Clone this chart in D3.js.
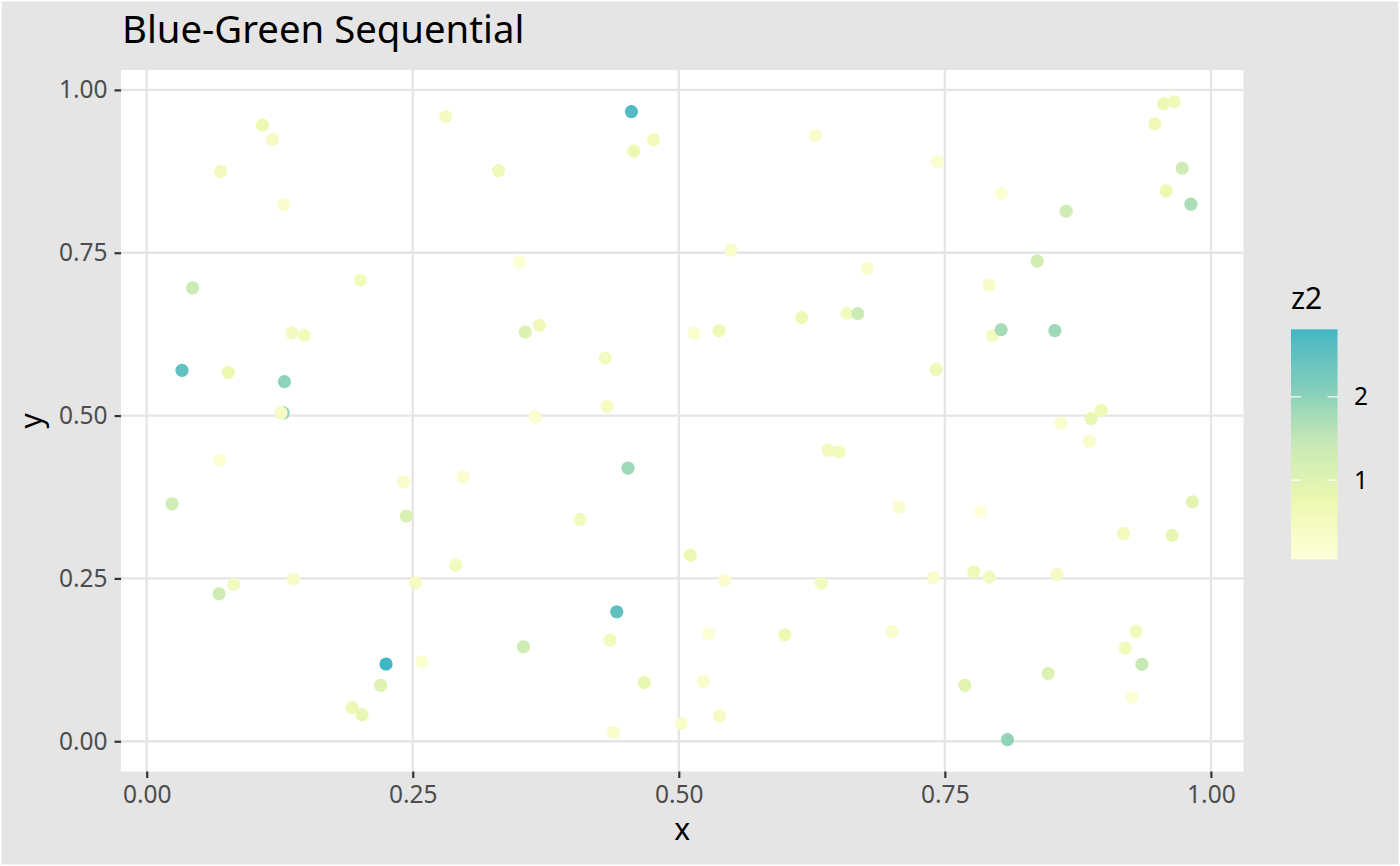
<!DOCTYPE html>
<html>
<head>
<meta charset="utf-8">
<script src="https://cdn.jsdelivr.net/npm/d3@7"></script>
<style>
  html, body { margin: 0; padding: 0; background: #fff; }
  svg { display: block; font-family: "Noto Sans", "Open Sans", sans-serif; }
</style>
</head>
<body>
<svg id="chart" width="1400" height="866"></svg>
<script>
// values
const xs = [0.1087, 0.1184, 0.0695, 0.1287, 0.281, 0.3308, 0.0432, 0.2008, 0.1363, 0.1482,
  0.0332, 0.0767, 0.1294, 0.1284, 0.1262, 0.0686, 0.0238, 0.2415, 0.297, 0.244,
  0.2904, 0.0818, 0.068, 0.1378, 0.2525, 0.2249, 0.2587, 0.2199, 0.193, 0.2024,
  0.4555, 0.4762, 0.4577, 0.6284, 0.3502, 0.5489, 0.677, 0.3558, 0.369, 0.5144,
  0.5379, 0.6156, 0.6579, 0.6682, 0.4308, 0.4326, 0.3652, 0.4523, 0.4072, 0.5109,
  0.6403, 0.6506, 0.5432, 0.634, 0.4417, 0.4354, 0.354, 0.5282, 0.5996, 0.4677,
  0.5232, 0.5382, 0.5025, 0.4386, 0.9555, 0.9655, 0.9474, 0.743, 0.8029, 0.864,
  0.973, 0.958, 0.9812, 0.8368, 0.7916, 0.7951, 0.8029, 0.8534, 0.7418, 0.8969,
  0.8875, 0.8593, 0.8859, 0.7068, 0.7838, 0.9827, 0.9179, 0.9636, 0.7393, 0.7773,
  0.7916, 0.8555, 0.7005, 0.9298, 0.9197, 0.9352, 0.8471, 0.7688, 0.9258, 0.8088];
const ys = [0.946, 0.924, 0.875, 0.824, 0.959, 0.876, 0.696, 0.708, 0.627, 0.623,
  0.5695, 0.5664, 0.552, 0.504, 0.504, 0.4314, 0.3645, 0.398, 0.4054, 0.3455,
  0.27, 0.2408, 0.2264, 0.249, 0.2433, 0.1186, 0.122, 0.0859, 0.0516, 0.0404,
  0.9667, 0.9238, 0.9059, 0.93, 0.7356, 0.754, 0.726, 0.6282, 0.6385, 0.6267,
  0.6303, 0.6503, 0.6569, 0.6564, 0.5883, 0.5143, 0.4979, 0.4192, 0.3405, 0.2857,
  0.4468, 0.4442, 0.2469, 0.2423, 0.1988, 0.1554, 0.1451, 0.165, 0.1635, 0.0899,
  0.092, 0.0388, 0.027, 0.0138, 0.979, 0.9816, 0.9479, 0.8896, 0.841, 0.8138,
  0.8798, 0.845, 0.8245, 0.7371, 0.7003, 0.6227, 0.6319, 0.6304, 0.571, 0.5081,
  0.4955, 0.488, 0.4606, 0.3598, 0.3528, 0.3675, 0.319, 0.316, 0.2509, 0.2601,
  0.252, 0.2561, 0.1687, 0.1687, 0.1431, 0.1181, 0.1043, 0.0859, 0.0675, 0.0025];
const z2 = [0.7, 0.4, 0.5, 0.2, 0.45, 0.6, 1.35, 0.55, 0.5, 0.55,
  2.5, 0.75, 2.0, 1.9, 0.4, 0.15, 1.3, 0.3, 0.2, 1.1,
  0.5, 0.5, 1.3, 0.35, 0.45, 2.81, 0.25, 1.0, 0.7, 0.85,
  2.65, 0.55, 0.7, 0.3, 0.15, 0.3, 0.25, 1.05, 0.6, 0.25,
  0.65, 0.65, 0.5, 1.35, 0.5, 0.4, 0.25, 1.85, 0.5, 0.7,
  0.5, 0.55, 0.2, 0.5, 2.5, 0.55, 1.3, 0.15, 0.7, 0.8,
  0.3, 0.4, 0.35, 0.3, 0.7, 0.6, 0.6, 0.25, 0.15, 1.3,
  1.3, 0.7, 1.7, 1.25, 0.35, 0.5, 1.75, 1.85, 0.6, 0.65,
  0.8, 0.25, 0.3, 0.2, 0.05, 0.95, 0.55, 0.85, 0.3, 0.6,
  0.5, 0.4, 0.3, 0.55, 0.5, 1.45, 1.05, 0.95, 0.15, 1.95];

const xTicks = [0, 0.25, 0.5, 0.75, 1];
const yTicks = [0, 0.25, 0.5, 0.75, 1];
const legendTicks = [1, 2];
const palette = ["#ffffd9", "#edf8b1", "#c7e9b4", "#7fcdbb", "#41b6c4"];

const points = xs.map((x, i) => ({ x, y: ys[i], z: z2[i] }));

const svg = d3.select("#chart");
const W = 1400, H = 866;
const panel = { left: 121, right: 1243.5, top: 70, bottom: 771.5 };

// ggplot style 5% expansion of the data range
function expand(ext) {
  const r = ext[1] - ext[0];
  return [ext[0] - r * 0.05, ext[1] + r * 0.05];
}

const x = d3.scaleLinear().domain(expand(d3.extent(xs))).range([panel.left, panel.right]);
const y = d3.scaleLinear().domain(expand(d3.extent(ys))).range([panel.bottom, panel.top]);

const zExt = d3.extent(z2);
const color = d3.scaleLinear()
  .domain(palette.map((_, i) => zExt[0] + (zExt[1] - zExt[0]) * i / (palette.length - 1)))
  .range(palette)
  .interpolate(d3.interpolateLab);

// backgrounds
svg.append("rect")
  .attr("x", 0.75).attr("y", 0.75)
  .attr("width", W - 1.5).attr("height", H - 1.5)
  .attr("fill", "#e5e5e5")
  .attr("stroke", "#fff").attr("stroke-width", 1.5);

svg.append("rect")
  .attr("x", panel.left).attr("y", panel.top)
  .attr("width", panel.right - panel.left)
  .attr("height", panel.bottom - panel.top)
  .attr("fill", "#fff");

// grid
const grid = svg.append("g").attr("stroke", "#e5e5e5").attr("stroke-width", 2.3);
grid.selectAll(".gx").data(xTicks).join("line")
  .attr("x1", d => x(d)).attr("x2", d => x(d))
  .attr("y1", panel.top).attr("y2", panel.bottom);
grid.selectAll(".gy").data(yTicks).join("line")
  .attr("x1", panel.left).attr("x2", panel.right)
  .attr("y1", d => y(d)).attr("y2", d => y(d));

// points
svg.append("g").selectAll("circle").data(points).join("circle")
  .attr("cx", d => x(d.x))
  .attr("cy", d => y(d.y))
  .attr("r", 6.6)
  .attr("fill", d => color(d.z));

// axes
const fmt = d3.format(".2f");
const xAxis = svg.append("g")
  .attr("transform", `translate(0,${panel.bottom})`)
  .call(d3.axisBottom(x).tickValues(xTicks).tickFormat(fmt).tickSize(6.5).tickPadding(5));
const yAxis = svg.append("g")
  .attr("transform", `translate(${panel.left},0)`)
  .call(d3.axisLeft(y).tickValues(yTicks).tickFormat(fmt).tickSize(6.5).tickPadding(7));

[xAxis, yAxis].forEach(a => {
  a.select(".domain").remove();
  a.selectAll(".tick line").attr("stroke", "#333").attr("stroke-width", 2.2);
  a.selectAll(".tick text")
    .attr("fill", "#4d4d4d")
    .attr("font-size", 24.5)
    .attr("font-family", "'Noto Sans', 'Open Sans', sans-serif");
});
xAxis.selectAll(".tick text").attr("dy", "0.8em");

// titles
svg.append("text")
  .attr("x", 122).attr("y", 43)
  .attr("font-size", 38.3)
  .attr("fill", "#000")
  .text("Blue-Green Sequential");

svg.append("text")
  .attr("x", (panel.left + panel.right) / 2).attr("y", 840)
  .attr("text-anchor", "middle")
  .attr("font-size", 30)
  .attr("fill", "#000")
  .text("x");

svg.append("text")
  .attr("transform", `translate(42,${(panel.top + panel.bottom) / 2}) rotate(-90)`)
  .attr("text-anchor", "middle")
  .attr("font-size", 30)
  .attr("fill", "#000")
  .text("y");

// legend colourbar
const bar = { x: 1291, w: 46.5, top: 329.3, bottom: 559.3 };
const lz = d3.scaleLinear().domain(zExt).range([bar.bottom, bar.top]);

const defs = svg.append("defs");
const grad = defs.append("linearGradient")
  .attr("id", "zgrad")
  .attr("x1", 0).attr("y1", 1).attr("x2", 0).attr("y2", 0);
grad.selectAll("stop").data(d3.range(0, 1.0001, 0.05)).join("stop")
  .attr("offset", d => d)
  .attr("stop-color", d => color(zExt[0] + d * (zExt[1] - zExt[0])));

svg.append("text")
  .attr("x", bar.x).attr("y", 309)
  .attr("font-size", 30)
  .attr("fill", "#000")
  .text("z2");

svg.append("rect")
  .attr("x", bar.x).attr("y", bar.top)
  .attr("width", bar.w).attr("height", bar.bottom - bar.top)
  .attr("fill", "url(#zgrad)");

const lt = svg.append("g").selectAll("g").data(legendTicks).join("g");
lt.append("line")
  .attr("x1", bar.x).attr("x2", bar.x + 10)
  .attr("y1", d => lz(d)).attr("y2", d => lz(d))
  .attr("stroke", "#fff").attr("stroke-opacity", 0.8).attr("stroke-width", 1.5);
lt.append("line")
  .attr("x1", bar.x + bar.w - 10).attr("x2", bar.x + bar.w)
  .attr("y1", d => lz(d)).attr("y2", d => lz(d))
  .attr("stroke", "#fff").attr("stroke-opacity", 0.8).attr("stroke-width", 1.5);
lt.append("text")
  .attr("x", 1354).attr("y", d => lz(d))
  .attr("dy", "0.35em")
  .attr("font-size", 24.5)
  .attr("fill", "#000")
  .text(d => d);
</script>
</body>
</html>
